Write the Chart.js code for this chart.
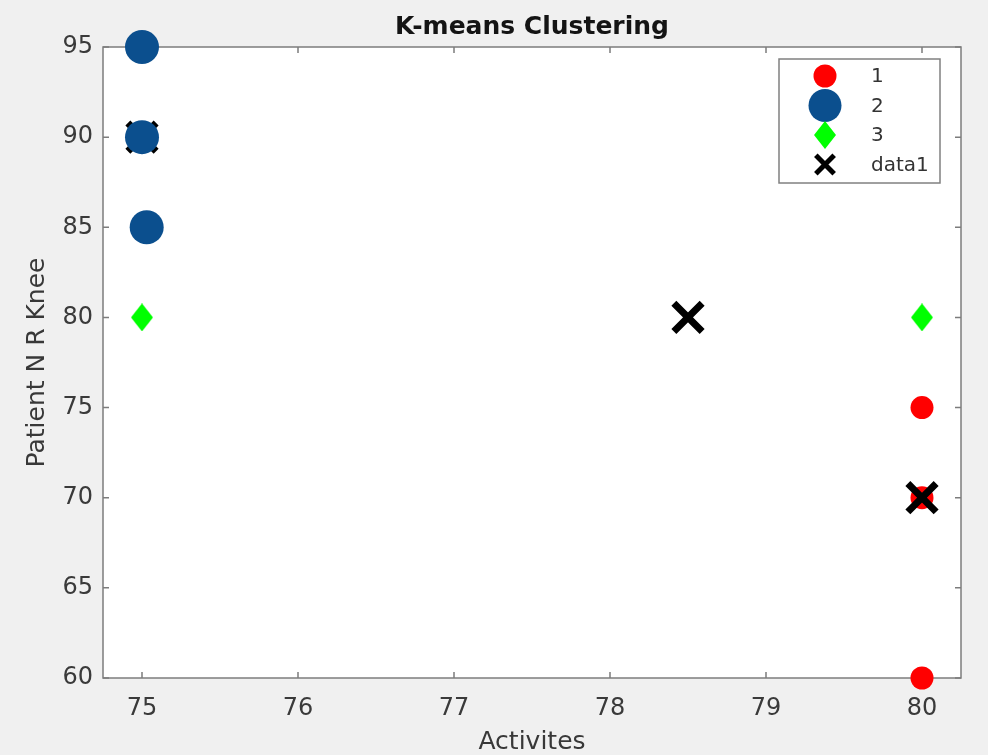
<!DOCTYPE html>
<html>
<head>
<meta charset="utf-8">
<title>K-means Clustering</title>
<script src="https://cdn.jsdelivr.net/npm/chart.js@4.4.1/dist/chart.umd.min.js"></script>
<style>
  html, body { margin: 0; padding: 0; background: #f0f0f0; }
  #wrap { width: 988px; height: 755px; }
</style>
</head>
<body>
<div id="wrap"><canvas id="myChart"></canvas></div>
<script>
  // values
  const cluster1X = [80, 80, 80]
  const cluster1Y = [75, 70, 60]
  const cluster2X = [75, 75, 75.03]
  const cluster2Y = [95, 90, 85]
  const cluster3X = [75, 80]
  const cluster3Y = [80, 80]
  const data1X = [75, 78.5, 80]
  const data1Y = [90, 80, 70]

  const seriesLabels = ['1', '2', '3', 'data1']
  const xTicks = [75, 76, 77, 78, 79, 80]
  const yTicks = [60, 65, 70, 75, 80, 85, 90, 95]

  const FONT = 'DejaVu Sans'

  const toPoints = (xs, ys) => xs.map((x, i) => ({ x: x, y: ys[i] }))

  // matlab style diamond, a bit taller than wide
  function diamond(w, h, color) {
    const c = document.createElement('canvas')
    c.width = w
    c.height = h
    const g = c.getContext('2d')
    g.fillStyle = color
    g.beginPath()
    g.moveTo(w / 2, 0)
    g.lineTo(w, h / 2)
    g.lineTo(w / 2, h)
    g.lineTo(0, h / 2)
    g.closePath()
    g.fill()
    return c
  }
  const greenDiamond = diamond(22, 28, '#00ff00')

  const framePlugin = {
    id: 'frame',
    beforeDraw(chart) {
      const { ctx, chartArea: a } = chart
      ctx.save()
      ctx.fillStyle = '#f0f0f0'
      ctx.fillRect(0, 0, chart.width, chart.height)
      ctx.fillStyle = '#ffffff'
      ctx.fillRect(a.left, a.top, a.width, a.height)
      ctx.restore()
    },
    beforeDatasetsDraw(chart) {
      const { ctx, chartArea: a, scales } = chart
      ctx.save()
      ctx.strokeStyle = '#7c7c7c'
      ctx.lineWidth = 1.5
      ctx.strokeRect(a.left, a.top, a.width, a.height)
      ctx.beginPath()
      scales.x.ticks.forEach(t => {
        const px = scales.x.getPixelForValue(t.value)
        ctx.moveTo(px, a.bottom); ctx.lineTo(px, a.bottom - 6)
        ctx.moveTo(px, a.top); ctx.lineTo(px, a.top + 6)
      })
      scales.y.ticks.forEach(t => {
        const py = scales.y.getPixelForValue(t.value)
        ctx.moveTo(a.left, py); ctx.lineTo(a.left + 6, py)
        ctx.moveTo(a.right, py); ctx.lineTo(a.right - 6, py)
      })
      ctx.stroke()
      ctx.restore()
    }
  }

  // legend box sits inside the axes, top right
  const legendPlugin = {
    id: 'insideLegend',
    afterDraw(chart) {
      const ctx = chart.ctx
      const a = chart.chartArea
      const bx = a.right - 182, by = a.top + 12, bw = 161, bh = 124
      const legendRadius = [11.5, 16.5, 12, 13]
      const legendBorder = [0, 0, 0, 5]
      ctx.save()
      ctx.fillStyle = '#ffffff'
      ctx.fillRect(bx, by, bw, bh)
      ctx.strokeStyle = '#808080'
      ctx.lineWidth = 1.5
      ctx.strokeRect(bx, by, bw, bh)
      chart.data.datasets.forEach((ds, i) => {
        const y = by + 17 + i * 29.5
        ctx.fillStyle = ds.pointBackgroundColor
        ctx.strokeStyle = ds.pointBorderColor
        ctx.lineWidth = legendBorder[i]
        Chart.helpers.drawPoint(ctx, {
          pointStyle: ds.pointStyle,
          radius: legendRadius[i],
          borderWidth: legendBorder[i],
          rotation: 0
        }, bx + 46, y)
        ctx.fillStyle = '#333333'
        ctx.font = '20px "' + FONT + '"'
        ctx.textAlign = 'left'
        ctx.textBaseline = 'middle'
        ctx.fillText(ds.label, bx + 92, y + 1)
      })
      ctx.restore()
    }
  }

  const ctx = document.getElementById('myChart')

  new Chart(ctx, {
    type: 'scatter',
    data: {
      datasets: [{
        label: seriesLabels[0],
        data: toPoints(cluster1X, cluster1Y),
        pointStyle: 'circle',
        pointRadius: 11.5,
        pointHoverRadius: 11.5,
        pointBackgroundColor: '#ff0000',
        pointBorderColor: '#ff0000',
        pointBorderWidth: 0,
        order: 3,
        clip: false
      },
      {
        label: seriesLabels[1],
        data: toPoints(cluster2X, cluster2Y),
        pointStyle: 'circle',
        pointRadius: 17,
        pointHoverRadius: 17,
        pointBackgroundColor: '#0b4f8e',
        pointBorderColor: '#0b4f8e',
        pointBorderWidth: 0,
        order: 0,
        clip: false
      },
      {
        label: seriesLabels[2],
        data: toPoints(cluster3X, cluster3Y),
        pointStyle: greenDiamond,
        pointRadius: 12,
        pointHoverRadius: 12,
        pointBackgroundColor: '#00ff00',
        pointBorderColor: '#00ff00',
        pointBorderWidth: 0,
        order: 2,
        clip: false
      },
      {
        label: seriesLabels[3],
        data: toPoints(data1X, data1Y),
        pointStyle: 'crossRot',
        pointRadius: 20,
        pointHoverRadius: 20,
        pointBackgroundColor: '#000000',
        pointBorderColor: '#000000',
        pointBorderWidth: 7,
        pointHoverBorderWidth: 7,
        order: 1,
        clip: false
      }
      ]
    },
    options: {
      responsive: true,
      maintainAspectRatio: false,
      animation: false,
      events: [],
      layout: { padding: { top: 0, right: 25, bottom: 0, left: 0 } },
      plugins: {
        legend: { display: false },
        tooltip: { enabled: false },
        title: {
          display: true,
          fullSize: false,
          text: 'K-means Clustering',
          color: '#141414',
          font: { family: FONT, size: 25, weight: 'bold', lineHeight: 1.2 },
          padding: { top: 12, bottom: 5 }
        }
      },
      scales: {
        x: {
          type: 'linear',
          min: 74.75,
          max: 80.25,
          afterBuildTicks: s => { s.ticks = xTicks.map(v => ({ value: v })) },
          afterFit: s => { s.height = 77; s.paddingLeft = 0; s.paddingRight = 0 },
          // tick marks are drawn by the frame plugin, tickLength only spaces the labels
          grid: { display: false, drawTicks: true, tickLength: 16 },
          border: { display: false },
          ticks: { padding: 0, color: '#3a3a3a', font: { family: FONT, size: 24 } },
          title: {
            display: true,
            text: 'Activites',
            color: '#383838',
            font: { family: FONT, size: 25, lineHeight: 1 },
            padding: 0
          }
        },
        y: {
          type: 'linear',
          min: 60,
          max: 95,
          afterBuildTicks: s => { s.ticks = yTicks.map(v => ({ value: v })) },
          afterFit: s => { s.width = 103 },
          grid: { display: false, drawTicks: false },
          border: { display: false },
          ticks: { padding: 10, color: '#3a3a3a', font: { family: FONT, size: 24 } },
          title: {
            display: true,
            text: 'Patient N R Knee',
            color: '#383838',
            font: { family: FONT, size: 25, lineHeight: 1.2 },
            padding: { top: 22, bottom: 0 }
          }
        }
      }
    },
    plugins: [framePlugin, legendPlugin]
  })
</script>
</body>
</html>
